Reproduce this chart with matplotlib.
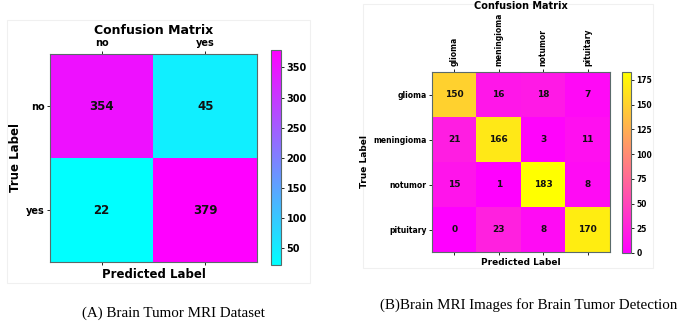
import numpy as np
import matplotlib.pyplot as plt
from matplotlib.patches import Rectangle

# binary tumour dataset
labels_a = ["no", "yes"]
cm_a = np.array([[354, 45],
                 [22, 379]])

# four-class tumour dataset
labels_b = ["glioma", "meningioma", "notumor", "pituitary"]
cm_b = np.array([[150, 16, 18, 7],
                 [21, 166, 3, 11],
                 [15, 1, 183, 8],
                 [0, 23, 8, 170]])

captions = ["(A) Brain Tumor MRI Dataset",
            "(B)Brain MRI Images for Brain Tumor Detection"]

fig = plt.figure(figsize=(6.78, 3.21), dpi=100)
fig.patch.set_facecolor("white")

# light panels behind each matrix
for rect in [(7/678, 1-283/321, 303/678, 263/321), (363/678, 1-268/321, 290/678, 264/321)]:
    fig.patches.append(Rectangle(rect[:2], rect[2], rect[3], transform=fig.transFigure,
                                 facecolor="white", edgecolor="#f0f0f0", lw=0.8, zorder=-10))


def draw_cm(ax, cax, cm, labels, cmap, fs_title, fs_tick, fs_ann, fs_lab, rot, cticks):
    im = ax.imshow(cm, cmap=cmap, aspect="auto")
    ax.set_xticks(range(len(labels)))
    ax.set_yticks(range(len(labels)))
    ax.set_xticklabels(labels, rotation=rot, fontsize=fs_tick, fontweight="bold")
    ax.set_yticklabels(labels, fontsize=fs_tick, fontweight="bold")
    ax.tick_params(top=True, labeltop=True, bottom=True, labelbottom=False,
                   length=2.5, width=0.6, pad=1.5)
    for i in range(cm.shape[0]):
        for j in range(cm.shape[1]):
            ax.text(j, i, str(cm[i, j]), ha="center", va="center",
                    fontsize=fs_ann, fontweight="bold", color="#111111")
    ax.set_xlabel("Predicted Label", fontsize=fs_lab, fontweight="bold", labelpad=2)
    ax.set_ylabel("True Label", fontsize=fs_lab, fontweight="bold", labelpad=3)
    ax.set_title("Confusion Matrix", fontsize=fs_title, fontweight="bold", pad=3)
    for s in ax.spines.values():
        s.set_color("#5a6a6a")
        s.set_linewidth(0.8)
    cb = fig.colorbar(im, cax=cax, ticks=cticks)
    cb.ax.tick_params(labelsize=fs_tick, length=2.5, width=0.6, pad=1.5)
    for t in cb.ax.get_yticklabels():
        t.set_fontweight("bold")
    cb.outline.set_edgecolor("#5a6a6a")
    cb.outline.set_linewidth(0.8)
    return ax


ax1 = fig.add_axes([50/678, 1-262/321, 207/678, 208/321])
cax1 = fig.add_axes([271/678, 1-265/321, 10/678, 215/321])
draw_cm(ax1, cax1, cm_a, labels_a, "cool", 9, 7, 8.5, 8.5, 0, range(50, 400, 50))

ax2 = fig.add_axes([432/678, 1-252/321, 178/678, 180/321])
cax2 = fig.add_axes([622/678, 1-253/321, 9/678, 181/321])
draw_cm(ax2, cax2, cm_b, labels_b, "spring", 7, 5.5, 6.5, 6.5, 90, range(0, 200, 25))

fig.text(173/678, 1-313/321, captions[0], ha="center", va="center",
         fontsize=10.8, family="Liberation Serif")
fig.text(529/678, 1-305/321, captions[1], ha="center", va="center",
         fontsize=10.8, family="Liberation Serif")

fig.savefig("out.png", dpi=100)
